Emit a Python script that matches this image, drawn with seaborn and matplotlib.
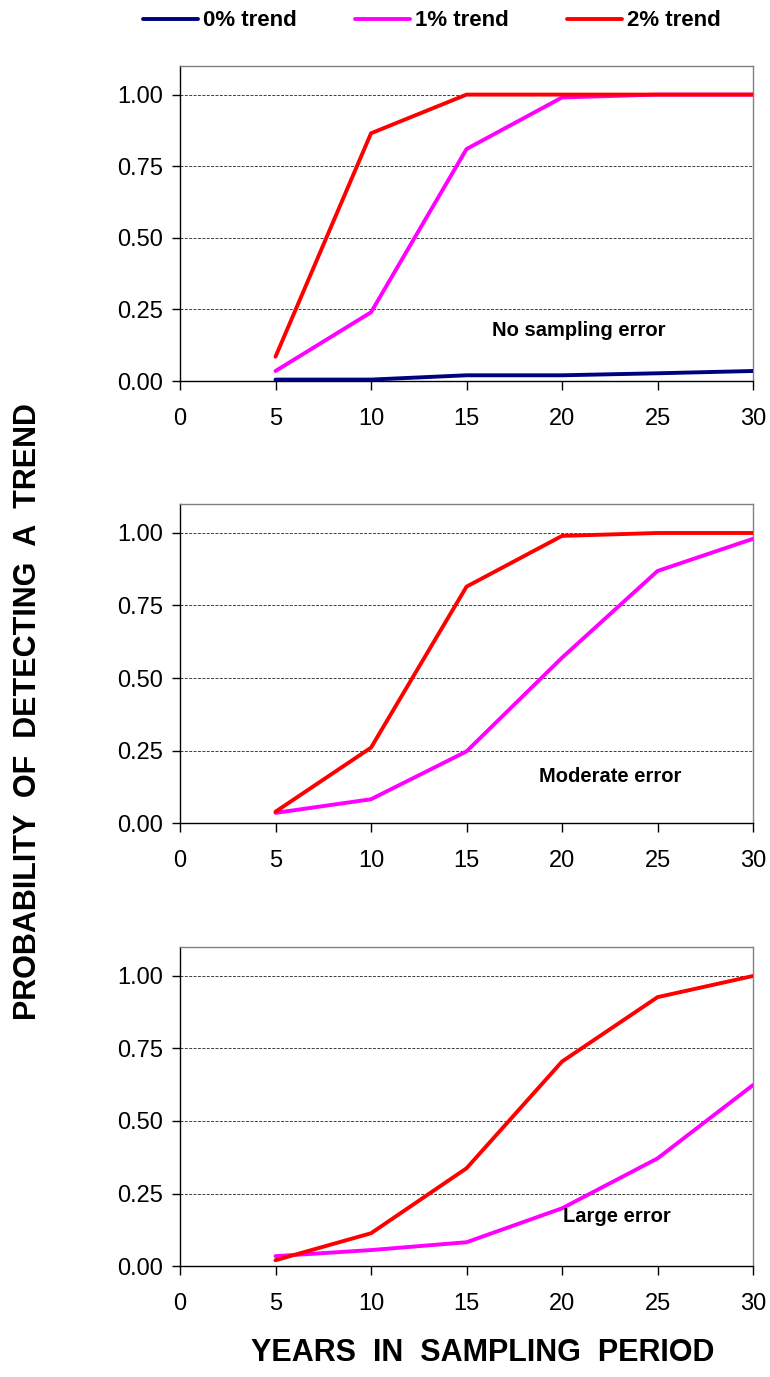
import numpy as np
import pandas as pd
import matplotlib
matplotlib.use("Agg")
import matplotlib.pyplot as plt
import seaborn as sns

# Sampling period lengths (years)
years = [5, 10, 15, 20, 25, 30]

# Probability of detecting a trend, by sampling error level
none_0pct = [0.005, 0.005, 0.02, 0.02, 0.027, 0.035]
none_1pct = [0.035, 0.24, 0.81, 0.99, 1.00, 1.00]
none_2pct = [0.085, 0.865, 1.00, 1.00, 1.00, 1.00]

moderate_1pct = [0.035, 0.082, 0.247, 0.57, 0.869, 0.98]
moderate_2pct = [0.039, 0.26, 0.815, 0.99, 1.00, 1.00]

large_1pct = [0.034, 0.055, 0.082, 0.199, 0.371, 0.624]
large_2pct = [0.02, 0.113, 0.337, 0.705, 0.927, 1.00]

series_names = ["0% trend", "1% trend", "2% trend"]
panel_labels = ["No sampling error", "Moderate error", "Large error"]
xticks = [0, 5, 10, 15, 20, 25, 30]
yticks = [0.00, 0.25, 0.50, 0.75, 1.00]

palette = {"0% trend": "#000080", "1% trend": "#FF00FF", "2% trend": "#FF0000"}


def long_frame(series):
    rows = []
    for name, vals in series:
        for x, v in zip(years, vals):
            rows.append({"years": x, "prob": v, "trend": name})
    return pd.DataFrame(rows)


panels = [
    long_frame([("0% trend", none_0pct), ("1% trend", none_1pct), ("2% trend", none_2pct)]),
    long_frame([("1% trend", moderate_1pct), ("2% trend", moderate_2pct)]),
    long_frame([("1% trend", large_1pct), ("2% trend", large_2pct)]),
]

sns.set_style("ticks")
plt.rcParams["font.family"] = ["Liberation Sans", "DejaVu Sans"]
plt.rcParams["text.color"] = "black"
plt.rcParams["axes.labelcolor"] = "black"
plt.rcParams["xtick.color"] = "black"
plt.rcParams["ytick.color"] = "black"

fig = plt.figure(figsize=(7.7, 13.77), dpi=100)
axes_rects = [
    [0.2338, 0.7233, 0.7442, 0.2288],
    [0.2338, 0.4023, 0.7442, 0.2317],
    [0.2338, 0.0806, 0.7442, 0.2317],
]
label_pos = [(20.9, 0.178, "center"), (22.5, 0.162, "center"), (20.05, 0.169, "left")]

for rect, df, lab, (lx, ly, ha) in zip(axes_rects, panels, panel_labels, label_pos):
    ax = fig.add_axes(rect)
    sns.lineplot(data=df, x="years", y="prob", hue="trend", palette=palette,
                 hue_order=[s for s in series_names if s in set(df["trend"])],
                 linewidth=2.8, legend=False, ax=ax, zorder=3)
    ax.set_xlim(0, 30)
    ax.set_ylim(0, 1.1)
    ax.set_xticks(xticks)
    ax.set_yticks(yticks)
    ax.set_yticklabels([f"{t:.2f}" for t in yticks])
    for t in yticks[1:]:
        ax.axhline(t, color="#404040", lw=0.7, ls=(0, (3, 1.5)), zorder=1)
    ax.tick_params(axis="x", direction="out", length=6.5, width=1, pad=13,
                   labelsize=17, color="black", labelcolor="black")
    ax.tick_params(axis="y", direction="out", length=6, width=1, pad=6,
                   labelsize=17, color="black", labelcolor="black")
    ax.set_xlabel("")
    ax.set_ylabel("")
    for side in ("left", "bottom"):
        ax.spines[side].set_color("black")
        ax.spines[side].set_linewidth(1.0)
    for side in ("top", "right"):
        ax.spines[side].set_color("#808080")
        ax.spines[side].set_linewidth(1.0)
    ax.text(lx, ly, lab, ha=ha, va="center", fontsize=14.5, fontweight="bold",
            color="black")

# Shared legend across the top
handles = [plt.Line2D([0], [0], color=palette[s], lw=2.8) for s in series_names]
leg = fig.legend(handles, series_names, loc="center", ncol=3,
                 bbox_to_anchor=(0.561, 0.9848), frameon=False, handlelength=2.5,
                 handletextpad=0.22, columnspacing=2.6,
                 prop={"weight": "bold", "size": 16})

fig.text(0.036, 0.483, "PROBABILITY  OF  DETECTING  A  TREND", rotation=90,
         ha="center", va="center", fontsize=22, fontweight="bold", color="black")
fig.text(0.627, 0.0174, "YEARS  IN  SAMPLING  PERIOD", ha="center", va="center",
         fontsize=22, fontweight="bold", color="black")

fig.savefig("out.png", dpi=100)
